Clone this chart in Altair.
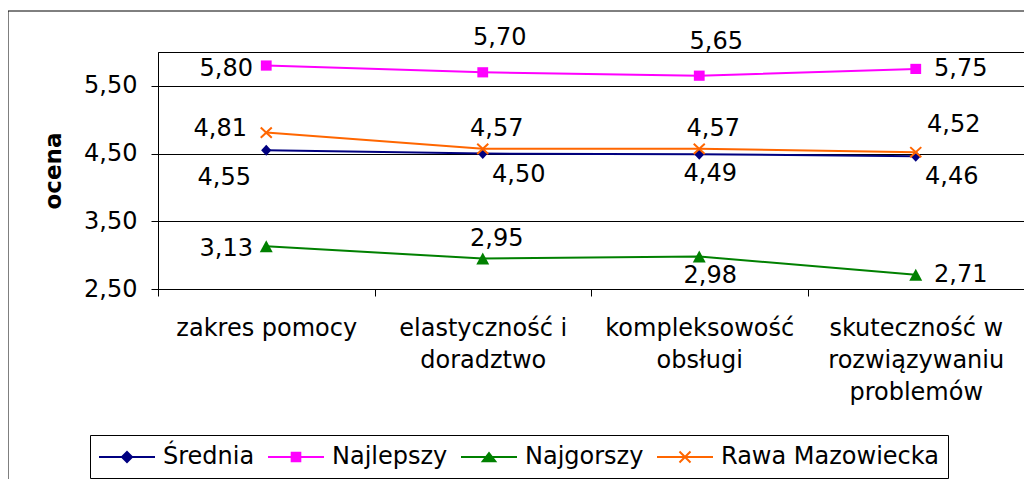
import altair as alt
import pandas as pd

# ---- data ----
categories = [
    "zakres pomocy",
    "elastyczność i\ndoradztwo",
    "kompleksowość\nobsługi",
    "skuteczność w\nrozwiązywaniu\nproblemów",
]
series = ["Średnia", "Najlepszy", "Najgorszy", "Rawa Mazowiecka"]
srednia = [4.55, 4.50, 4.49, 4.46]
najlepszy = [5.80, 5.70, 5.65, 5.75]
najgorszy = [3.13, 2.95, 2.98, 2.71]
rawa = [4.81, 4.57, 4.57, 4.52]
y_ticks = [2.5, 3.5, 4.5, 5.5]

# ---- styling ----
colors = ["#000080", "#FF00FF", "#008000", "#FF6600"]
FONT = "DejaVu Sans"

# where each data label sits relative to its point (placement codes)
label_pos = {
    "Średnia": ["below-left", "below-right", "below", "below-right"],
    "Najlepszy": ["left", "above-high", "above-high", "right"],
    "Najgorszy": ["left", "above", "below", "right"],
    "Rawa Mazowiecka": ["upper-left", "above", "above", "upper-right"],
}
placements = {
    "left": (-40, 3),
    "right": (45, 0),
    "upper-left": (-46, -4),
    "upper-right": (38, -27),
    "above": (14, -20),
    "above-high": (17, -34),
    "below-left": (-42, 28),
    "below-right": (36, 21),
    "below": (11, 20),
}

values = {"Średnia": srednia, "Najlepszy": najlepszy, "Najgorszy": najgorszy, "Rawa Mazowiecka": rawa}
rows = []
for s in series:
    for i, c in enumerate(categories):
        rows.append({"category": c, "series": s, "value": values[s][i], "pos": label_pos[s][i]})
df = pd.DataFrame(rows)

marker_paths = [
    "M0,-0.92L0.85,0L0,0.92L-0.85,0Z",
    "M-0.9,-0.85L0.9,-0.85L0.9,0.85L-0.9,0.85Z",
    "M0,-1L1.08,1L-1.08,1Z",
    "M-0.92,-0.85L0.92,0.85M-0.92,0.85L0.92,-0.85",
]
legend_paths = [
    "M-2.333,0L2.333,0M0,-0.42L0.42,0L0,0.42L-0.42,0Z",
    "M-2.333,0L2.333,0M-0.36,-0.36L0.36,-0.36L0.36,0.36L-0.36,0.36Z",
    "M-2.333,0L2.333,0M0,-0.32L0.52,0.36L-0.52,0.36Z",
    "M-2.333,0L2.333,0M-0.46,-0.46L0.46,0.46M-0.46,0.46L0.46,-0.46",
]

W, H = 866, 237

x_enc = alt.X(
    "category:N",
    scale=alt.Scale(type="band", domain=categories, paddingInner=0, paddingOuter=0),
    axis=alt.Axis(
        title=None, labelAngle=0,
        labelExpr="isValid(datum.value) ? split(datum.value, '\\n') : ''",
        tickBand="extent", tickSize=7, labelPadding=20, labelLineHeight=32,
        labelBaseline="top", labelLimit=400, labelOverlap=False, grid=False,
    ),
)
y_enc = alt.Y(
    "value:Q",
    scale=alt.Scale(domain=[2.5, 6.0], nice=False, zero=False),
    axis=alt.Axis(
        values=y_ticks, labelExpr="replace(format(datum.value, '.2f'), '.', ',')",
        tickSize=7, labelPadding=14, grid=True,
        title="ocena", titleFont=FONT, titleFontSize=23, titleFontWeight="bold",
        titleX=-105, titleY=H / 2, titleAngle=270, titleAlign="center", titleBaseline="middle",
    ),
)


def cscale():
    return alt.Scale(domain=series, range=colors)


base = alt.Chart(df)

frame = alt.Chart(pd.DataFrame({"a": [0]})).mark_rect(
    fillOpacity=0, stroke="black", strokeWidth=1
).encode(x=alt.value(-150), x2=alt.value(1200), y=alt.value(-41), y2=alt.value(700))

lines = base.mark_line(strokeWidth=2).encode(
    x=x_enc, y=y_enc, color=alt.Color("series:N", scale=cscale(), legend=None)
)

markers = base.transform_filter(alt.datum.series != "Rawa Mazowiecka").mark_point(
    filled=True, opacity=1, size=144, strokeWidth=0
).encode(
    x=x_enc, y=y_enc,
    color=alt.Color("series:N", scale=cscale(), legend=None),
    shape=alt.Shape("series:N", scale=alt.Scale(domain=series, range=marker_paths), legend=None),
)

xmarks = base.transform_filter(alt.datum.series == "Rawa Mazowiecka").mark_point(
    filled=False, opacity=1, size=144, strokeWidth=2
).encode(
    x=x_enc, y=y_enc,
    color=alt.Color("series:N", scale=cscale(), legend=None),
    shape=alt.Shape("series:N", scale=alt.Scale(domain=series, range=marker_paths), legend=None),
)

label_layers = []
for code, (dx, dy) in placements.items():
    label_layers.append(
        base.transform_filter(alt.datum.pos == code)
        .transform_calculate(label="replace(format(datum.value, '.2f'), '.', ',')")
        .mark_text(dx=dx, dy=dy, font=FONT, fontSize=24, color="black", align="center", baseline="middle")
        .encode(x=x_enc, y=y_enc, text="label:N")
    )

leg = alt.Legend(title=None)
legend_layer = base.transform_filter("false").mark_point(
    filled=True, opacity=1, strokeWidth=2
).encode(
    x=x_enc, y=y_enc,
    color=alt.Color("series:N", scale=cscale(), legend=leg),
    stroke=alt.Stroke("series:N", scale=cscale(), legend=leg),
    shape=alt.Shape("series:N", scale=alt.Scale(domain=series, range=legend_paths), legend=leg),
)

chart = (
    alt.layer(frame, lines, markers, xmarks, *label_layers, legend_layer)
    .resolve_scale(color="independent", shape="independent", stroke="independent")
    .properties(
        width=W, height=H,
        autosize=alt.AutoSizeParams(type="none"),
        padding={"left": 150, "top": 44, "right": 0, "bottom": 190},
        background="white",
    )
    .configure_view(stroke="black", strokeWidth=1)
    .configure_axis(
        labelFont=FONT, labelFontSize=24, labelColor="black",
        domainColor="black", tickColor="black", gridColor="black", titleColor="black",
        domainWidth=1, tickWidth=1, gridWidth=1,
    )
    .configure_legend(
        orient="none", legendX=-68, legendY=383, direction="horizontal",
        padding=9, strokeColor="black", fillColor="white",
        labelFont=FONT, labelFontSize=24, labelColor="black", labelLimit=400,
        labelOffset=23, symbolSize=576, symbolStrokeWidth=2, symbolOffset=15,
        columnPadding=9, symbolOpacity=1,
    )
)

chart.save("out.html", embed_options={"renderer": "svg", "actions": False})
